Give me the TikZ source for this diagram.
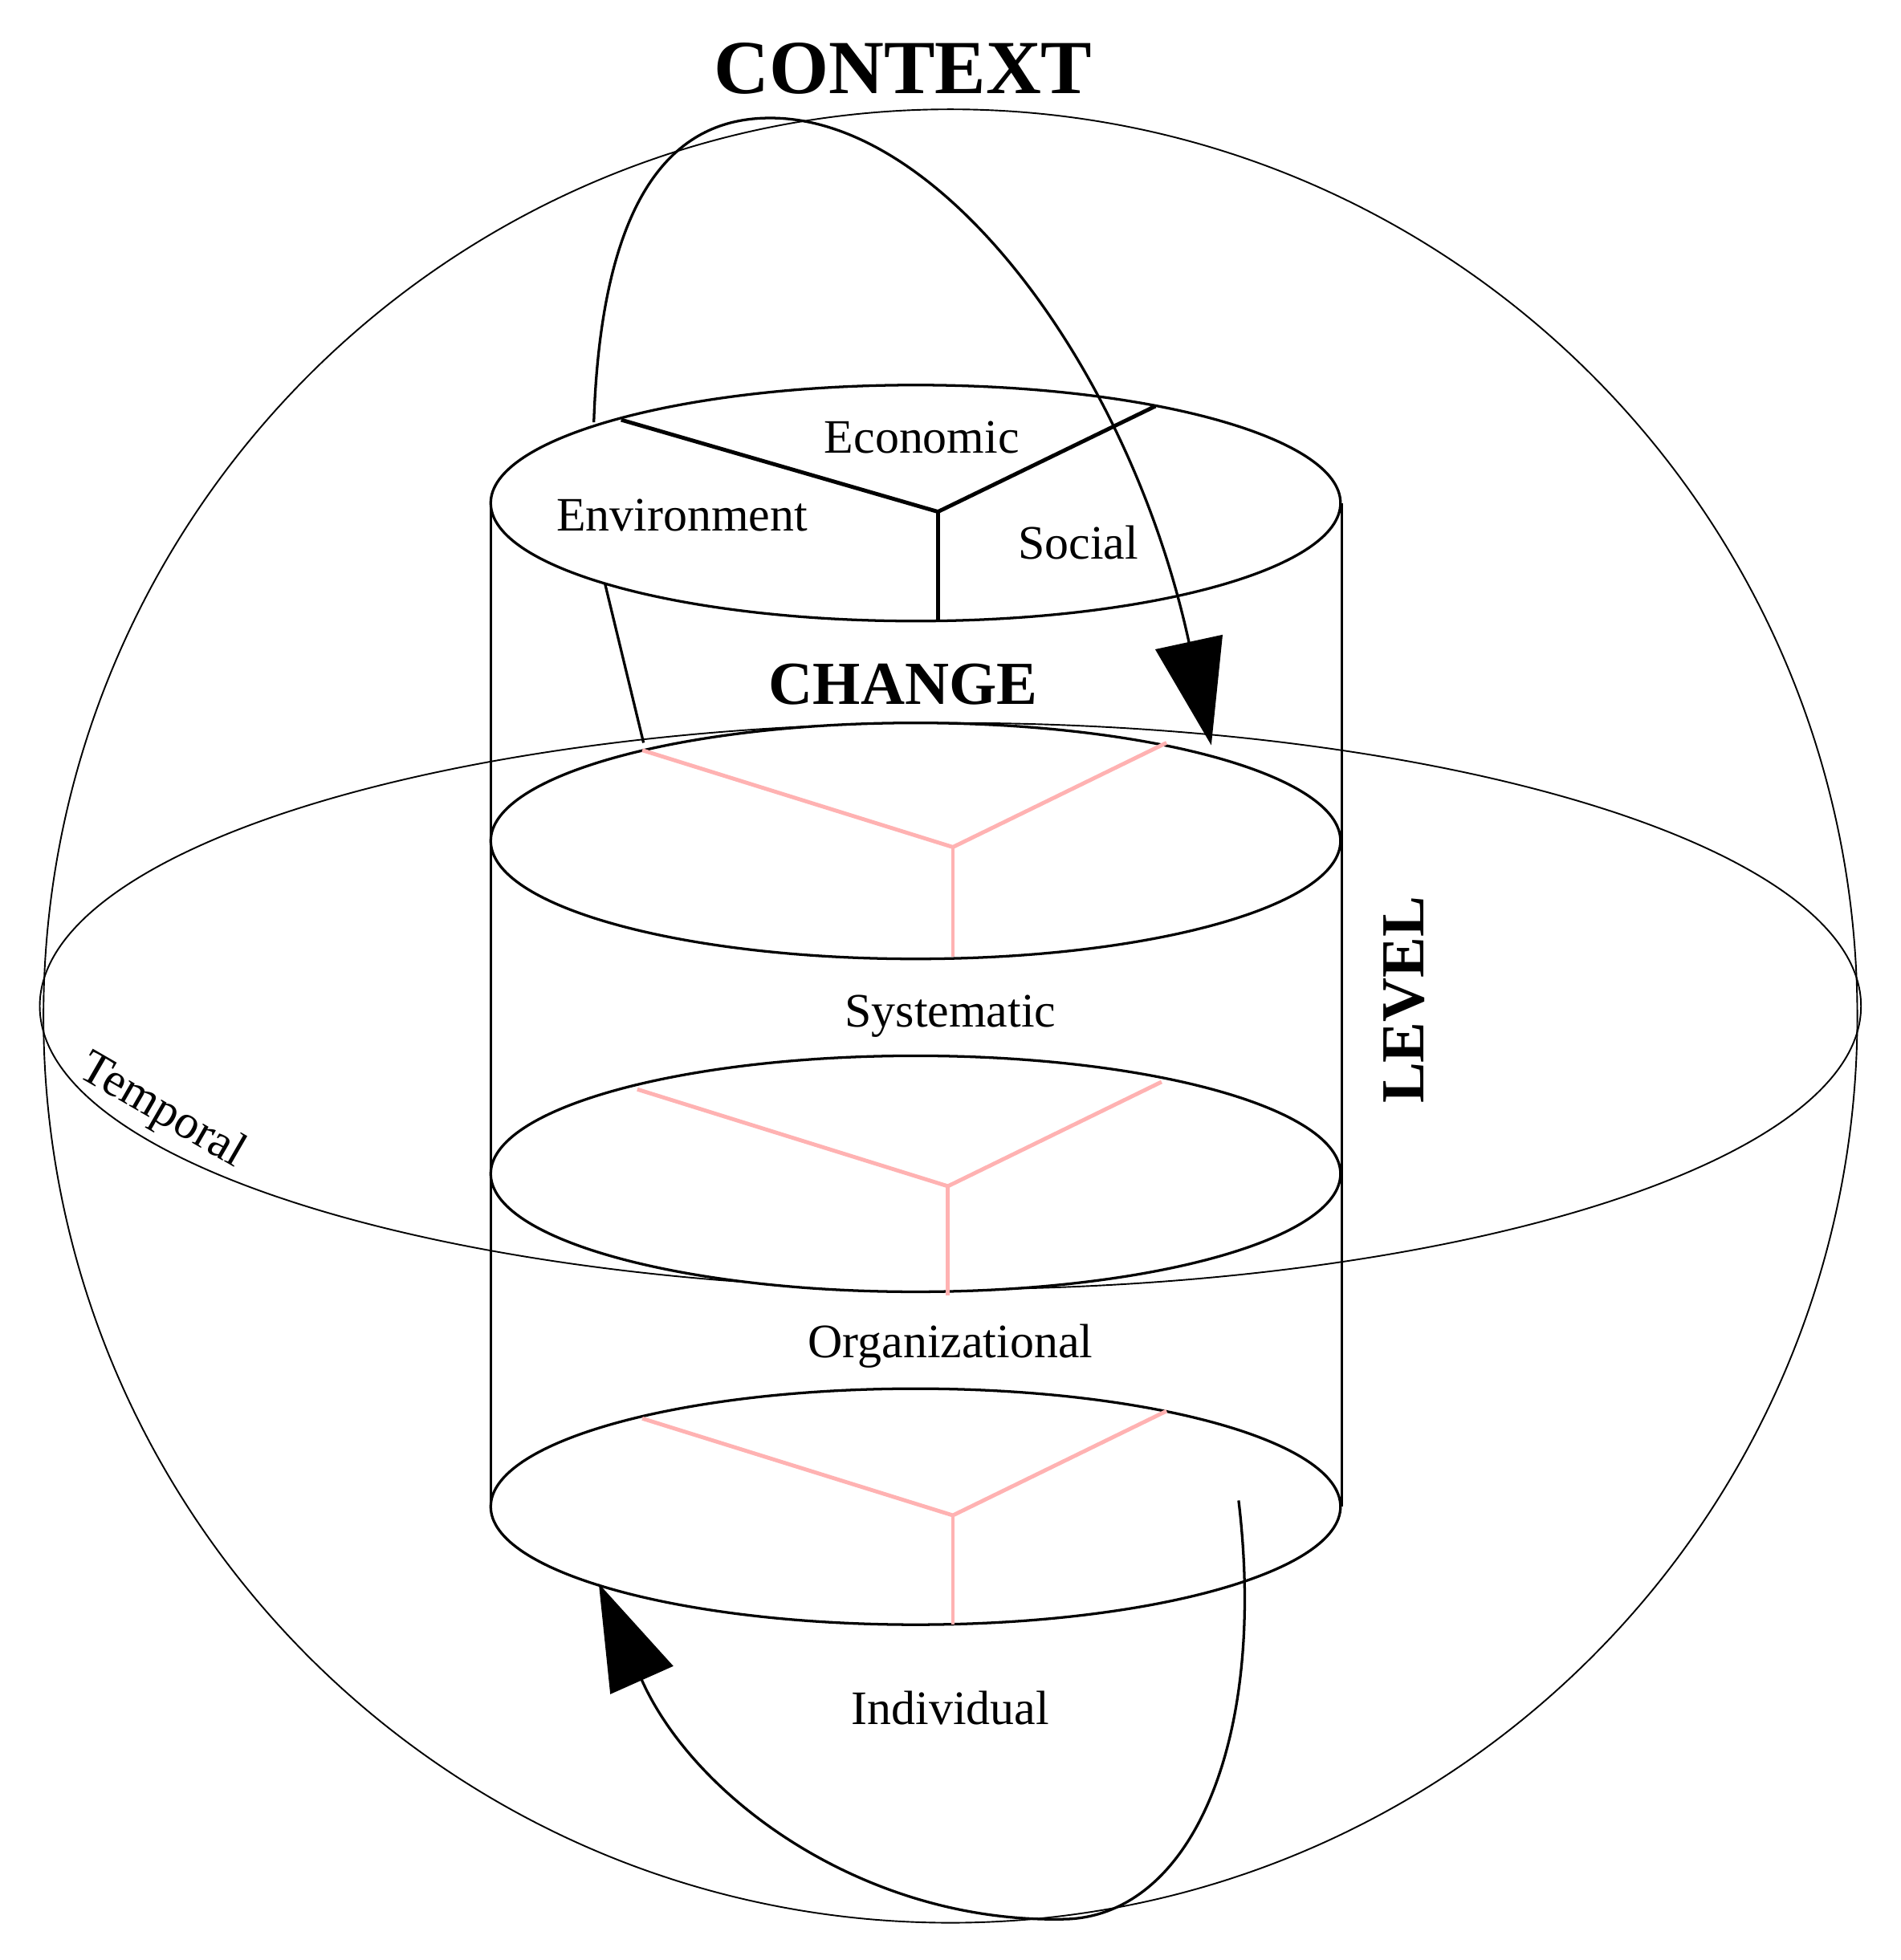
\documentclass[tikz,border=0pt]{standalone}
\usepackage{fontspec}
\setmainfont{Liberation Serif}
\usetikzlibrary{arrows.meta}
\begin{document}
\begin{tikzpicture}[x=0.01cm,y=-0.01cm,
  thinline/.style={line width=0.35pt},
  cyl/.style={line width=0.6pt},
  part/.style={line width=0.9pt},
  pinkpart/.style={line width=0.9pt, color=red!30!white},
  bigarrow/.style={line width=0.6pt, -{Triangle[length=0.85cm,width=0.55cm]}},
  lab/.style={font=\fontsize{11}{13}\selectfont},
  title/.style={font=\bfseries\fontsize{14}{17}\selectfont}]
  \useasboundingbox (0,0) rectangle (1530,1578);

  % Sphere et équateur
  \draw[thinline] (765,818) circle[radius=730];
  \draw[thinline] (765,810) ellipse[x radius=733, y radius=228];

  % Cylindre
  \draw[cyl] (395,405) -- (395,1213);
  \draw[cyl] (1080,405) -- (1080,1213);
  \foreach \y in {405,677,945,1213}
    \draw[cyl, fill=white] (737,\y) ellipse[x radius=342, y radius=95];

  % Partition du haut
  \coordinate (C) at (755,412);
  \draw[part] (500,338) -- (C) -- (930,327);
  \draw[part] (C) -- (755,500);

  % Partitions roses
  \foreach \y/\cx in {682/767,955/763,1220/767}{
    \draw[pinkpart] (\cx-250,\y-78) -- (\cx,\y) -- (\cx+172,\y-84);
    \draw[pinkpart] (\cx,\y) -- (\cx,\y+88);
  }

  % Flèche du contexte
  \draw[bigarrow] (478,340) .. controls (485,130) and (560,95) .. (620,95)
    .. controls (760,95) and (910,300) .. (975,600);
  \draw[cyl] (487,470) -- (518,598);

  % Flèche du bas
  \draw[bigarrow] (997,1208) .. controls (1020,1400) and (960,1540) .. (860,1545)
    .. controls (700,1550) and (560,1450) .. (482,1275);

  % Textes
  \node[lab] (eco) at (742,352) {Economic};
  \node[lab] (env) at (549,415) {Environment};
  \node[lab] (soc) at (868,437) {Social};
  \node[title] (change) at (727,551) {CHANGE};
  \node[lab] (sys) at (765,818) {Systematic};
  \node[lab] (org) at (765,1084) {Organizational};
  \node[lab] (ind) at (765,1375) {Individual};
  \node[font=\bfseries\fontsize{17.5}{21}\selectfont] (context) at (727,55) {CONTEXT};
  \node[title, rotate=90] (level) at (1130,805) {LEVEL};
  \node[font=\fontsize{11}{13}\selectfont, rotate=-30] (temp) at (130,895) {Temporal};
\end{tikzpicture}
\end{document}
